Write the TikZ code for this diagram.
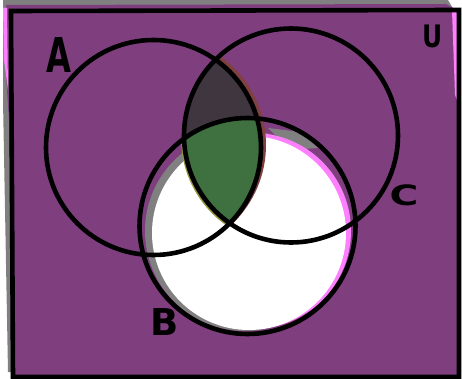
\documentclass[tikz,border=0pt]{standalone}
\usepackage{fontspec}
\setmainfont{DejaVu Sans}
\definecolor{bgpurple}{RGB}{127,63,127}
\definecolor{lensdark}{RGB}{64,54,64}
\definecolor{lensgreen}{RGB}{63,112,63}
\definecolor{smudgepink}{RGB}{255,128,255}
\definecolor{smudgegrey}{RGB}{128,128,128}
\definecolor{smudgebrown}{RGB}{128,64,64}
\definecolor{smudgeolive}{RGB}{150,150,60}
\begin{document}
\begin{tikzpicture}[x=1pt,y=-1pt,
  setline/.style={line width=4.6pt,black},
  setlabel/.style={inner sep=0pt,font=\bfseries}]
\useasboundingbox (0,0) rectangle (462,379);
% background
\fill[smudgegrey] (3,0) -- (448,0) -- (455,12) -- (455,372) -- (8,372) -- (3,100) -- cycle;
\fill[bgpurple] (6,5) -- (446,4) -- (460,12) -- (460,378) -- (11,378) -- (9,120) -- (5,60) -- cycle;
\fill[smudgepink] (452,11) -- (459,11) -- (460,108) -- (455,95) -- cycle;
\fill[smudgepink] (3,8) -- (7,8) -- (8,90) -- (4,60) -- cycle;
% white part of B with smudges
\fill[smudgegrey] (245,231) circle (100);
\fill[smudgegrey] (268,128) -- (300,132) -- (318,148) -- (290,150) -- cycle;
\fill[smudgepink] (253,231) circle (98);
\fill[white] (249,233) circle (97);
% smudges around the lens
\begin{scope}
  \clip (151,150) circle (107);
  \clip (288,138) circle (107);
  \clip (246,228) circle (106);
  \fill[smudgeolive] (0,0) rectangle (462,379);
\end{scope}
\begin{scope}
  \clip (157,145) circle (109);
  \clip (293,133) circle (108);
  \fill[smudgebrown] (0,0) rectangle (462,379);
\end{scope}
% A and C only, then A, B and C
\begin{scope}
  \clip (153.5,147.5) circle (107.5);
  \clip (291,135.5) circle (107);
  \fill[lensdark] (0,0) rectangle (462,379);
  \clip (247.5,226) circle (108);
  \fill[lensgreen] (0,0) rectangle (462,379);
\end{scope}
% frame and circles
\draw[setline] (11,11) -- (459,10) -- (459,377) -- (13,377) -- cycle;
\draw[setline] (153.5,147.5) circle (107.5);
\draw[setline] (291,135.5) circle (107);
\draw[setline] (247.5,226) circle (108);
% labels
\node[setlabel,font=\bfseries\fontsize{48}{48}\selectfont,xscale=0.67] (la) at (59,55) {A};
\node[setlabel,font=\bfseries\fontsize{37}{37}\selectfont] (lb) at (165,322) {B};
\node[setlabel,font=\bfseries\fontsize{28}{28}\selectfont,xscale=1.4] (lc) at (404,195) {C};
\node[setlabel,font=\bfseries\fontsize{31}{31}\selectfont,xscale=0.8] (lu) at (433,36) {U};
\end{tikzpicture}
\end{document}
